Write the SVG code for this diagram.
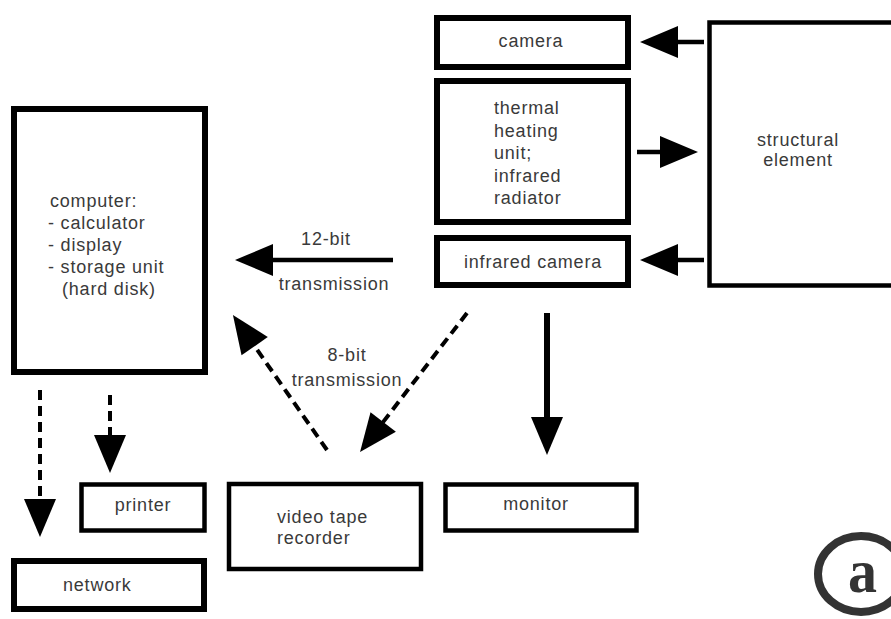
<svg xmlns="http://www.w3.org/2000/svg" width="891" height="619" viewBox="0 0 891 619">
<style>
  .box{fill:#fff;stroke:#000;}
  .thick{stroke-width:6;}
  .thin{stroke-width:4.5;}
  text{font-family:"Liberation Sans",Arial,sans-serif;font-size:18px;fill:#3a3a3a;letter-spacing:0.8px;}
  .mid{text-anchor:middle;}
  .solid{stroke:#000;stroke-width:4.5;fill:none;marker-end:url(#head);}
  .dash{stroke:#000;stroke-width:4;fill:none;stroke-dasharray:10 6;marker-end:url(#head);}
</style>
<defs>
  <marker id="head" markerUnits="userSpaceOnUse" viewBox="-2 -17 40 34" refX="0" refY="0" markerWidth="40" markerHeight="34" orient="auto">
    <path d="M-1,-16 L37,0 L-1,16 Z" fill="#000"/>
  </marker>
</defs>
<rect width="891" height="619" fill="#fff"/>

<g id="camera"><rect class="box thick" x="437" y="18" width="191" height="49"/><text class="mid" x="531" y="47">camera</text></g>
<g id="thermal"><rect class="box thick" x="437" y="81" width="191" height="141"/>
  <text x="494" y="114">thermal</text><text x="494" y="136.5">heating</text><text x="494" y="159">unit;</text><text x="494" y="181.5">infrared</text><text x="494" y="204">radiator</text></g>
<g id="infrared-camera"><rect class="box thick" x="437" y="238" width="191" height="47"/><text class="mid" x="533" y="268">infrared camera</text></g>
<g id="structural-element"><rect class="box thin" x="709.5" y="22.5" width="200" height="263"/><text class="mid" x="798" y="146">structural</text><text class="mid" x="798" y="166">element</text></g>
<g id="computer"><rect class="box thick" x="14" y="109" width="191" height="263"/>
  <text x="50" y="207">computer:</text><text x="48" y="229">- calculator</text><text x="48" y="251">- display</text><text x="48" y="273">- storage unit</text><text x="62" y="295">(hard disk)</text></g>
<g id="printer"><rect class="box thin" x="81.5" y="484.5" width="123" height="46"/><text class="mid" x="143" y="511">printer</text></g>
<g id="network"><rect class="box thick" x="14" y="561" width="190" height="48"/><text x="63" y="591">network</text></g>
<g id="video-tape-recorder"><rect class="box thin" x="229" y="484" width="192" height="85"/><text x="277" y="523">video tape</text><text x="277" y="544">recorder</text></g>
<g id="monitor"><rect class="box thin" x="445.5" y="484.5" width="191" height="46"/><text class="mid" x="536" y="510">monitor</text></g>

<g id="connectors">
  <line class="solid" x1="704" y1="42" x2="677" y2="42"/>
  <line class="solid" x1="637" y1="152" x2="661" y2="152"/>
  <line class="solid" x1="704" y1="260" x2="677" y2="260"/>
  <line class="solid" x1="393" y1="260" x2="272" y2="260"/>
  <line class="solid" style="stroke-width:6" x1="547" y1="313" x2="547" y2="418"/>
  <line class="dash" x1="467" y1="313" x2="382.6" y2="422.7"/>
  <line class="dash" x1="327" y1="450" x2="254.1" y2="345.4"/>
  <line class="dash" x1="110" y1="395" x2="110" y2="436"/>
  <line class="dash" x1="40" y1="390" x2="40" y2="500"/>
  <text class="mid" x="326" y="245">12-bit</text>
  <text class="mid" x="334" y="290">transmission</text>
  <text class="mid" x="347" y="361">8-bit</text>
  <text class="mid" x="347" y="386">transmission</text>
</g>

<g id="label-a">
  <ellipse cx="861" cy="574" rx="43" ry="38" fill="none" stroke="#333" stroke-width="8"/>
  <text x="848" y="592" style="font-family:'Liberation Serif','Times New Roman',serif;font-weight:bold;font-size:62px;fill:#333;letter-spacing:0" textLength="29" lengthAdjust="spacingAndGlyphs">a</text>
</g>
</svg>
